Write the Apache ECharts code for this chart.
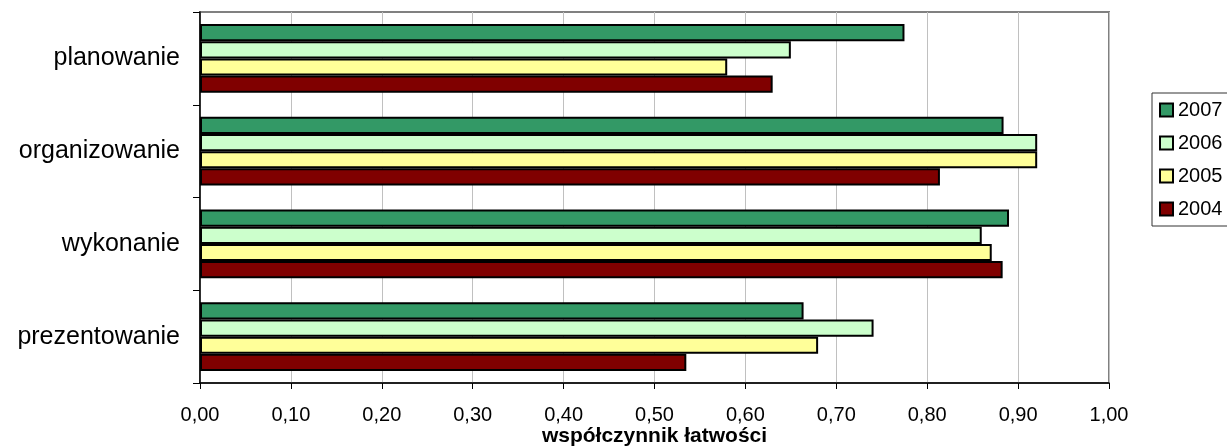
<!DOCTYPE html>
<html><head><meta charset="utf-8">
<script src="https://cdn.jsdelivr.net/npm/echarts@6/dist/echarts.min.js"></script>
<style>html,body{margin:0;padding:0;background:#fff}#c{width:1227px;height:448px}</style>
</head><body><div id="c"></div>
<script>
const categories = ['planowanie', 'organizowanie', 'wykonanie', 'prezentowanie'];
const seriesNames = ['2007', '2006', '2005', '2004'];
const v2007 = [0.775, 0.884, 0.890, 0.664];
const v2006 = [0.650, 0.921, 0.860, 0.741];
const v2005 = [0.580, 0.921, 0.871, 0.680];
const v2004 = [0.630, 0.814, 0.883, 0.535];
const colors = ['#339966', '#CCFFCC', '#FFFF99', '#800000'];
const xTicks = [0, 1, 0.1];
const xName = 'współczynnik łatwości';

const values = [v2007, v2006, v2005, v2004];
const FONT = '"Liberation Sans", Arial, sans-serif';
const chart = echarts.init(document.getElementById('c'), null, {renderer: 'canvas'});
chart.setOption({
  animation: false,
  backgroundColor: '#fff',
  textStyle: {fontFamily: FONT, color: '#000'},
  grid: {left: 200, right: 118, top: 12, bottom: 65, show: true, borderColor: '#808080', borderWidth: 2,
    containLabel: false, outerBoundsMode: 'none'},
  legend: {
    orient: 'vertical', left: 1152, top: 93,
    padding: [7, 20, 7, 7],
    borderColor: '#333', borderWidth: 1,
    itemWidth: 13, itemHeight: 13, itemGap: 13,
    icon: 'rect',
    itemStyle: {borderColor: '#000', borderWidth: 2},
    textStyle: {fontSize: 20, color: '#000', fontFamily: FONT},
    data: seriesNames
  },
  xAxis: {
    type: 'value', min: xTicks[0], max: xTicks[1], interval: xTicks[2],
    name: xName, nameLocation: 'middle', nameGap: 43, nameMoveOverlap: false,
    nameTextStyle: {fontSize: 21, fontWeight: 'bold', color: '#000', fontFamily: FONT},
    axisLine: {show: true, lineStyle: {color: '#000', width: 1.5}},
    axisTick: {show: true, length: 6, lineStyle: {color: '#000'}},
    splitLine: {show: true, lineStyle: {color: '#c0c0c0', width: 1}},
    axisLabel: {fontSize: 20, color: '#000', margin: 22, fontFamily: FONT,
      formatter: v => v.toFixed(2).replace('.', ',')}
  },
  yAxis: {
    type: 'category', data: categories, inverse: true,
    axisLine: {show: true, lineStyle: {color: '#000', width: 1.5}},
    axisTick: {show: true, length: 7, lineStyle: {color: '#000'}},
    axisLabel: {fontSize: 25, color: '#000', margin: 20, fontFamily: FONT}
  },
  series: seriesNames.map((n, i) => ({
    name: n, type: 'bar', data: values[i],
    barGap: '0%', barCategoryGap: '26%',
    itemStyle: {color: colors[i], borderColor: '#000', borderWidth: 2}
  }))
});
</script></body></html>
